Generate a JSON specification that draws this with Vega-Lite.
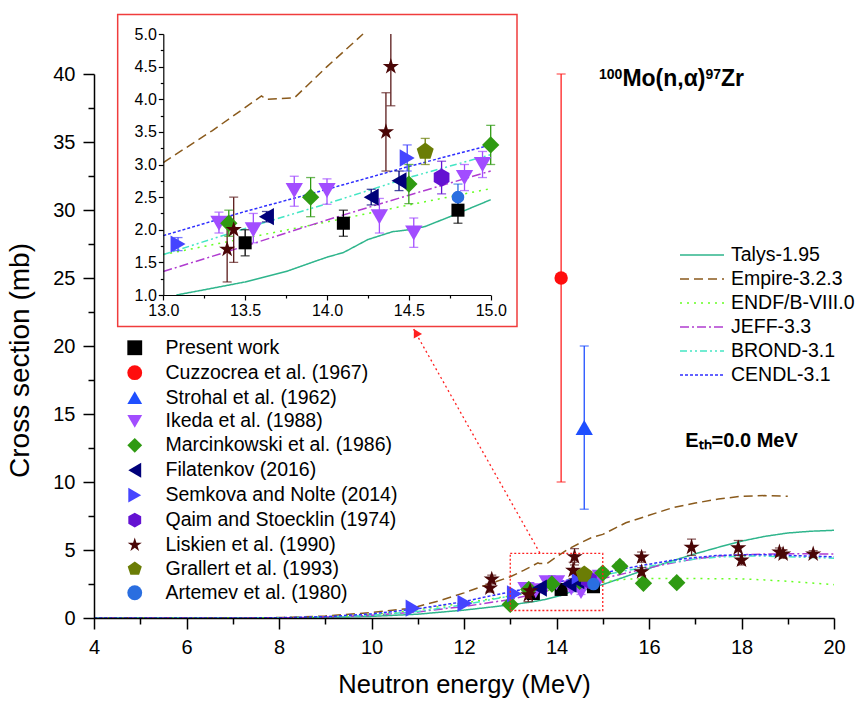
{
"$schema":"https://vega.github.io/schema/vega-lite/v6.json",
"width":740,"height":544,
"autosize":{"type":"none"},
"padding":{"left":94,"top":74,"right":21,"bottom":83},
"background":"white",
"config":{
 "font":"Liberation Sans",
 "view":{"stroke":null},
 "axis":{"grid":false,"domainColor":"#000","tickColor":"#000","labelColor":"#000","titleColor":"#000","labelFont":"Liberation Sans","titleFont":"Liberation Sans","titleFontWeight":"normal","labelFlush":false,"labelOverlap":false},
 "legend":{"labelFont":"Liberation Sans","labelColor":"#000","padding":0,"labelLimit":400}
},
"datasets":{
 "pts":[
  {"s":"Present work","x":13.5,"y":1.8,"lo":1.6,"hi":2.0},
  {"s":"Present work","x":14.1,"y":2.1,"lo":1.9,"hi":2.3},
  {"s":"Present work","x":14.8,"y":2.3,"lo":2.1,"hi":2.5},
  {"s":"Cuzzocrea et al. (1967)","x":14.1,"y":25,"lo":10,"hi":40},
  {"s":"Strohal et al. (1962)","x":14.6,"y":14,"lo":8,"hi":20},
  {"s":"Ikeda et al. (1988)","x":13.34,"y":2.1,"lo":1.95,"hi":2.27},
  {"s":"Ikeda et al. (1988)","x":13.55,"y":2.0,"lo":1.8,"hi":2.25},
  {"s":"Ikeda et al. (1988)","x":13.8,"y":2.6,"lo":2.36,"hi":2.82},
  {"s":"Ikeda et al. (1988)","x":14.0,"y":2.6,"lo":2.39,"hi":2.78},
  {"s":"Ikeda et al. (1988)","x":14.32,"y":2.2,"lo":1.95,"hi":2.48},
  {"s":"Ikeda et al. (1988)","x":14.53,"y":1.95,"lo":1.73,"hi":2.18},
  {"s":"Ikeda et al. (1988)","x":14.84,"y":2.8,"lo":2.6,"hi":3.0},
  {"s":"Ikeda et al. (1988)","x":14.95,"y":3.0,"lo":2.8,"hi":3.2},
  {"s":"Marcinkowski et al. (1986)","x":13.0,"y":1.0,"lo":0.9,"hi":1.1},
  {"s":"Marcinkowski et al. (1986)","x":13.4,"y":2.1,"lo":1.9,"hi":2.3},
  {"s":"Marcinkowski et al. (1986)","x":13.9,"y":2.5,"lo":2.2,"hi":2.8},
  {"s":"Marcinkowski et al. (1986)","x":14.5,"y":2.7,"lo":2.4,"hi":3.0},
  {"s":"Marcinkowski et al. (1986)","x":15.0,"y":3.3,"lo":3.0,"hi":3.6},
  {"s":"Marcinkowski et al. (1986)","x":15.37,"y":3.8,"lo":3.5,"hi":4.1},
  {"s":"Marcinkowski et al. (1986)","x":15.88,"y":2.55,"lo":2.3,"hi":2.8},
  {"s":"Marcinkowski et al. (1986)","x":16.6,"y":2.6,"lo":2.35,"hi":2.85},
  {"s":"Filatenkov (2016)","x":13.63,"y":2.2,"lo":2.12,"hi":2.28},
  {"s":"Filatenkov (2016)","x":14.27,"y":2.5,"lo":2.38,"hi":2.62},
  {"s":"Filatenkov (2016)","x":14.44,"y":2.75,"lo":2.6,"hi":2.9},
  {"s":"Semkova and Nolte (2014)","x":10.9,"y":0.72,"lo":0.66,"hi":0.78},
  {"s":"Semkova and Nolte (2014)","x":12.02,"y":1.08,"lo":1.0,"hi":1.16},
  {"s":"Semkova and Nolte (2014)","x":13.09,"y":1.78,"lo":1.68,"hi":1.88},
  {"s":"Semkova and Nolte (2014)","x":14.49,"y":3.1,"lo":2.9,"hi":3.3},
  {"s":"Qaim and Stoecklin (1974)","x":14.7,"y":2.8,"lo":2.55,"hi":3.05},
  {"s":"Liskien et al. (1990)","x":12.56,"y":2.2,"lo":1.9,"hi":2.5},
  {"s":"Liskien et al. (1990)","x":12.6,"y":2.85,"lo":2.55,"hi":3.15},
  {"s":"Liskien et al. (1990)","x":13.39,"y":1.7,"lo":1.2,"hi":2.2},
  {"s":"Liskien et al. (1990)","x":13.43,"y":2.0,"lo":1.5,"hi":2.5},
  {"s":"Liskien et al. (1990)","x":14.36,"y":3.5,"lo":2.9,"hi":4.1},
  {"s":"Liskien et al. (1990)","x":14.39,"y":4.5,"lo":3.9,"hi":5.1},
  {"s":"Liskien et al. (1990)","x":15.84,"y":3.4,"lo":3.1,"hi":3.7},
  {"s":"Liskien et al. (1990)","x":15.84,"y":4.47,"lo":4.1,"hi":4.85},
  {"s":"Liskien et al. (1990)","x":16.92,"y":5.2,"lo":4.6,"hi":5.8},
  {"s":"Liskien et al. (1990)","x":17.93,"y":5.15,"lo":4.6,"hi":5.7},
  {"s":"Liskien et al. (1990)","x":18.0,"y":4.25,"lo":3.9,"hi":4.6},
  {"s":"Liskien et al. (1990)","x":18.82,"y":4.85,"lo":4.55,"hi":5.15},
  {"s":"Liskien et al. (1990)","x":18.9,"y":4.7,"lo":4.4,"hi":5.0},
  {"s":"Liskien et al. (1990)","x":19.55,"y":4.7,"lo":4.45,"hi":4.95},
  {"s":"Grallert et al. (1993)","x":14.6,"y":3.2,"lo":3.0,"hi":3.4},
  {"s":"Artemev et al. (1980)","x":14.8,"y":2.5,"lo":2.3,"hi":2.7}
 ],
 "curves":[
  {"m":"Talys-1.95","x":4,"y":0},{"m":"Talys-1.95","x":7,"y":0},{"m":"Talys-1.95","x":8,"y":0.01},{"m":"Talys-1.95","x":9,"y":0.04},{"m":"Talys-1.95","x":10,"y":0.12},{"m":"Talys-1.95","x":11,"y":0.28},{"m":"Talys-1.95","x":12,"y":0.58},{"m":"Talys-1.95","x":12.5,"y":0.77},{"m":"Talys-1.95","x":13,"y":0.97},{"m":"Talys-1.95","x":13.08,"y":1.0},{"m":"Talys-1.95","x":13.25,"y":1.08},{"m":"Talys-1.95","x":13.5,"y":1.2},{"m":"Talys-1.95","x":13.75,"y":1.36},{"m":"Talys-1.95","x":14,"y":1.58},{"m":"Talys-1.95","x":14.1,"y":1.65},{"m":"Talys-1.95","x":14.25,"y":1.85},{"m":"Talys-1.95","x":14.4,"y":1.97},{"m":"Talys-1.95","x":14.5,"y":2.0},{"m":"Talys-1.95","x":14.6,"y":2.05},{"m":"Talys-1.95","x":14.75,"y":2.2},{"m":"Talys-1.95","x":15,"y":2.46},{"m":"Talys-1.95","x":15.5,"y":3.05},{"m":"Talys-1.95","x":16,"y":3.65},{"m":"Talys-1.95","x":16.5,"y":4.2},{"m":"Talys-1.95","x":17,"y":4.72},{"m":"Talys-1.95","x":17.5,"y":5.2},{"m":"Talys-1.95","x":18,"y":5.65},{"m":"Talys-1.95","x":18.5,"y":6.0},{"m":"Talys-1.95","x":19,"y":6.25},{"m":"Talys-1.95","x":19.5,"y":6.38},{"m":"Talys-1.95","x":20,"y":6.45},
  {"m":"Empire-3.2.3","x":4,"y":0},{"m":"Empire-3.2.3","x":7,"y":0},{"m":"Empire-3.2.3","x":8,"y":0.03},{"m":"Empire-3.2.3","x":9,"y":0.15},{"m":"Empire-3.2.3","x":10,"y":0.4},{"m":"Empire-3.2.3","x":10.75,"y":0.68},{"m":"Empire-3.2.3","x":11,"y":0.85},{"m":"Empire-3.2.3","x":11.5,"y":1.3},{"m":"Empire-3.2.3","x":12,"y":1.85},{"m":"Empire-3.2.3","x":12.5,"y":2.45},{"m":"Empire-3.2.3","x":13,"y":3.03},{"m":"Empire-3.2.3","x":13.3,"y":3.52},{"m":"Empire-3.2.3","x":13.6,"y":4.05},{"m":"Empire-3.2.3","x":13.63,"y":4.0},{"m":"Empire-3.2.3","x":13.8,"y":4.02},{"m":"Empire-3.2.3","x":14,"y":4.5},{"m":"Empire-3.2.3","x":14.22,"y":5.0},{"m":"Empire-3.2.3","x":14.5,"y":5.5},{"m":"Empire-3.2.3","x":14.75,"y":5.9},{"m":"Empire-3.2.3","x":15,"y":6.15},{"m":"Empire-3.2.3","x":15.5,"y":7.0},{"m":"Empire-3.2.3","x":16,"y":7.55},{"m":"Empire-3.2.3","x":16.5,"y":8.1},{"m":"Empire-3.2.3","x":17,"y":8.45},{"m":"Empire-3.2.3","x":17.5,"y":8.75},{"m":"Empire-3.2.3","x":18,"y":8.95},{"m":"Empire-3.2.3","x":18.5,"y":9.0},{"m":"Empire-3.2.3","x":19,"y":8.95},
  {"m":"ENDF/B-VIII.0","x":4,"y":0},{"m":"ENDF/B-VIII.0","x":7,"y":0},{"m":"ENDF/B-VIII.0","x":8,"y":0.02},{"m":"ENDF/B-VIII.0","x":9,"y":0.08},{"m":"ENDF/B-VIII.0","x":10,"y":0.25},{"m":"ENDF/B-VIII.0","x":11,"y":0.6},{"m":"ENDF/B-VIII.0","x":12,"y":1.1},{"m":"ENDF/B-VIII.0","x":12.5,"y":1.37},{"m":"ENDF/B-VIII.0","x":13,"y":1.62},{"m":"ENDF/B-VIII.0","x":13.5,"y":1.87},{"m":"ENDF/B-VIII.0","x":14,"y":2.12},{"m":"ENDF/B-VIII.0","x":14.5,"y":2.38},{"m":"ENDF/B-VIII.0","x":15,"y":2.63},{"m":"ENDF/B-VIII.0","x":15.5,"y":2.85},{"m":"ENDF/B-VIII.0","x":16,"y":2.9},{"m":"ENDF/B-VIII.0","x":17,"y":2.9},{"m":"ENDF/B-VIII.0","x":18,"y":2.88},{"m":"ENDF/B-VIII.0","x":18.5,"y":2.8},{"m":"ENDF/B-VIII.0","x":19,"y":2.7},{"m":"ENDF/B-VIII.0","x":19.5,"y":2.58},{"m":"ENDF/B-VIII.0","x":20,"y":2.45},
  {"m":"JEFF-3.3","x":4,"y":0},{"m":"JEFF-3.3","x":7,"y":0},{"m":"JEFF-3.3","x":8,"y":0.01},{"m":"JEFF-3.3","x":9,"y":0.06},{"m":"JEFF-3.3","x":10,"y":0.2},{"m":"JEFF-3.3","x":11,"y":0.45},{"m":"JEFF-3.3","x":12,"y":0.85},{"m":"JEFF-3.3","x":12.5,"y":1.1},{"m":"JEFF-3.3","x":13,"y":1.36},{"m":"JEFF-3.3","x":13.5,"y":1.75},{"m":"JEFF-3.3","x":14,"y":2.15},{"m":"JEFF-3.3","x":14.5,"y":2.53},{"m":"JEFF-3.3","x":15,"y":2.9},{"m":"JEFF-3.3","x":15.5,"y":3.3},{"m":"JEFF-3.3","x":16,"y":3.7},{"m":"JEFF-3.3","x":16.5,"y":4.05},{"m":"JEFF-3.3","x":17,"y":4.35},{"m":"JEFF-3.3","x":17.5,"y":4.55},{"m":"JEFF-3.3","x":18,"y":4.65},{"m":"JEFF-3.3","x":18.5,"y":4.7},{"m":"JEFF-3.3","x":19,"y":4.72},{"m":"JEFF-3.3","x":19.5,"y":4.72},{"m":"JEFF-3.3","x":20,"y":4.7},
  {"m":"BROND-3.1","x":4,"y":0},{"m":"BROND-3.1","x":7,"y":0},{"m":"BROND-3.1","x":8,"y":0.01},{"m":"BROND-3.1","x":9,"y":0.06},{"m":"BROND-3.1","x":10,"y":0.2},{"m":"BROND-3.1","x":11,"y":0.48},{"m":"BROND-3.1","x":12,"y":0.98},{"m":"BROND-3.1","x":12.5,"y":1.3},{"m":"BROND-3.1","x":13,"y":1.62},{"m":"BROND-3.1","x":13.5,"y":2.02},{"m":"BROND-3.1","x":14,"y":2.4},{"m":"BROND-3.1","x":14.5,"y":2.8},{"m":"BROND-3.1","x":15,"y":3.15},{"m":"BROND-3.1","x":15.5,"y":3.48},{"m":"BROND-3.1","x":16,"y":3.8},{"m":"BROND-3.1","x":16.5,"y":4.1},{"m":"BROND-3.1","x":17,"y":4.33},{"m":"BROND-3.1","x":17.5,"y":4.48},{"m":"BROND-3.1","x":18,"y":4.55},{"m":"BROND-3.1","x":18.5,"y":4.55},{"m":"BROND-3.1","x":19,"y":4.5},{"m":"BROND-3.1","x":19.5,"y":4.45},{"m":"BROND-3.1","x":20,"y":4.4},
  {"m":"CENDL-3.1","x":4,"y":0},{"m":"CENDL-3.1","x":7,"y":0},{"m":"CENDL-3.1","x":8,"y":0.02},{"m":"CENDL-3.1","x":9,"y":0.1},{"m":"CENDL-3.1","x":10,"y":0.3},{"m":"CENDL-3.1","x":11,"y":0.68},{"m":"CENDL-3.1","x":12,"y":1.2},{"m":"CENDL-3.1","x":12.5,"y":1.58},{"m":"CENDL-3.1","x":13,"y":1.91},{"m":"CENDL-3.1","x":13.5,"y":2.28},{"m":"CENDL-3.1","x":14,"y":2.62},{"m":"CENDL-3.1","x":14.5,"y":2.97},{"m":"CENDL-3.1","x":15,"y":3.3},{"m":"CENDL-3.1","x":15.5,"y":3.65},{"m":"CENDL-3.1","x":16,"y":3.95},{"m":"CENDL-3.1","x":16.5,"y":4.25},{"m":"CENDL-3.1","x":17,"y":4.45},{"m":"CENDL-3.1","x":17.5,"y":4.6},{"m":"CENDL-3.1","x":18,"y":4.65},{"m":"CENDL-3.1","x":18.5,"y":4.65},{"m":"CENDL-3.1","x":19,"y":4.6},{"m":"CENDL-3.1","x":19.5,"y":4.55},{"m":"CENDL-3.1","x":20,"y":4.5}
 ],
 "frame":[{"x":4.512,"x2":13.146,"y":21.43,"y2":44.38}],
 "zoombox":[{"x":13.0,"x2":15.0,"y":0.55,"y2":4.75}],
 "arrow":[{"x":13.64,"y":4.78,"x2":10.9,"y2":21.3}],
 "arrowhead":[{"x":10.96,"y":20.98}],
 "titlebig":[{"label":"Mo(n,α)","x":15.425,"y":39.15},{"label":"Zr","x":17.557,"y":39.15}],
 "titlesup":[{"label":"100","x":14.919,"y":39.63},{"label":"97","x":17.219,"y":39.63}],
 "eth":[{"label":"Eₜₕ=0.0 MeV","x":18.0,"y":12.6}],
 "anchor":[{"x":14,"y":3}]
},
"layer":[
 {
  "encoding":{
   "x":{"field":"x","type":"quantitative","scale":{"domain":[4,20],"nice":false,"zero":false},"axis":null},
   "y":{"field":"y","type":"quantitative","scale":{"domain":[0,40],"nice":false,"zero":false},"axis":null}
  },
  "layer":[
   {"data":{"name":"frame"},"mark":{"type":"rect","fill":"white","stroke":"#f03c3c","strokeWidth":1.5},
    "encoding":{"x2":{"field":"x2"},"y2":{"field":"y2"}}},
   {"data":{"name":"curves"},"mark":{"type":"line","strokeWidth":1.5},
    "encoding":{
     "stroke":{"field":"m","type":"nominal","scale":{"domain":["Talys-1.95","Empire-3.2.3","ENDF/B-VIII.0","JEFF-3.3","BROND-3.1","CENDL-3.1"],"range":["#2fb58c","#8a5a1c","#66ff22","#b03cd0","#44e6c4","#2f2fff"]},
       "legend":{"orient":"none","legendX":596,"legendY":169,"title":null,"symbolType":"M-2,0L2,0","symbolSize":484,"symbolStrokeWidth":1.5,"labelFontSize":19.5,"labelOffset":17,"rowPadding":2,"padding":0}},
     "strokeDash":{"field":"m","type":"nominal","scale":{"domain":["Talys-1.95","Empire-3.2.3","ENDF/B-VIII.0","JEFF-3.3","BROND-3.1","CENDL-3.1"],"range":[[1,0],[9,5],[2,5],[9,3,2,3],[7,3,2,3,2,3],[3,2]]},
       "legend":{"orient":"none","legendX":596,"legendY":169,"title":null,"symbolType":"M-2,0L2,0","symbolSize":484,"symbolStrokeWidth":1.5,"labelFontSize":19.5,"labelOffset":17,"rowPadding":2,"padding":0}}
    }},
   {"data":{"name":"pts"},"mark":{"type":"rule","strokeWidth":1.3},
    "encoding":{
     "y":{"field":"lo","type":"quantitative","scale":{"domain":[0,40],"nice":false,"zero":false},"axis":null},
     "y2":{"field":"hi"},
     "color":{"field":"s","type":"nominal","scale":{"domain":["Artemev et al. (1980)","Grallert et al. (1993)","Liskien et al. (1990)","Qaim and Stoecklin (1974)","Semkova and Nolte (2014)","Filatenkov (2016)","Marcinkowski et al. (1986)","Ikeda et al. (1988)","Strohal et al. (1962)","Cuzzocrea et al. (1967)","Present work"],"range":["#2a6ee0","#6b7d05","#5a1a1a","#6412d2","#4545ff","#00007a","#2f9a12","#a24dff","#2050ff","#ff2020","#000000"]},"legend":null}
    }},
   {"data":{"name":"pts"},"mark":{"type":"tick","orient":"horizontal","size":9,"thickness":1.3},
    "encoding":{
     "y":{"field":"hi","type":"quantitative","scale":{"domain":[0,40],"nice":false,"zero":false},"axis":null},
     "color":{"field":"s","type":"nominal","legend":null}
    }},
   {"data":{"name":"pts"},"mark":{"type":"tick","orient":"horizontal","size":9,"thickness":1.3},
    "encoding":{
     "y":{"field":"lo","type":"quantitative","scale":{"domain":[0,40],"nice":false,"zero":false},"axis":null},
     "color":{"field":"s","type":"nominal","legend":null}
    }},
   {"data":{"name":"pts"},"mark":{"type":"point","filled":true,"opacity":1},
    "encoding":{
     "fill":{"field":"s","type":"nominal","scale":{"domain":["Present work","Cuzzocrea et al. (1967)","Strohal et al. (1962)","Ikeda et al. (1988)","Marcinkowski et al. (1986)","Filatenkov (2016)","Semkova and Nolte (2014)","Qaim and Stoecklin (1974)","Liskien et al. (1990)","Grallert et al. (1993)","Artemev et al. (1980)"],"range":["#000000","#ff0d0d","#1f4fff","#a24dff","#2f9a12","#00007a","#4545ff","#6412d2","#4a0606","#6b7d05","#2a6ee0"]},
       "legend":{"orient":"none","legendX":31,"legendY":264,"title":null,"symbolSize":220,"labelFontSize":19.5,"labelOffset":21,"rowPadding":2.9,"padding":0,"labelLimit":400}},
     "shape":{"field":"s","type":"nominal","scale":{"domain":["Present work","Cuzzocrea et al. (1967)","Strohal et al. (1962)","Ikeda et al. (1988)","Marcinkowski et al. (1986)","Filatenkov (2016)","Semkova and Nolte (2014)","Qaim and Stoecklin (1974)","Liskien et al. (1990)","Grallert et al. (1993)","Artemev et al. (1980)"],"range":["square","circle","triangle-up","triangle-down","diamond","triangle-left","triangle-right","M0,-1L0.866,-0.5L0.866,0.5L0,1L-0.866,0.5L-0.866,-0.5Z","M0,-1L0.2245,-0.309L0.951,-0.309L0.3633,0.118L0.5878,0.809L0,0.382L-0.5878,0.809L-0.3633,0.118L-0.951,-0.309L-0.2245,-0.309Z","M0,-1L0.951,-0.309L0.5878,0.809L-0.5878,0.809L-0.951,-0.309Z","circle"]},
       "legend":{"orient":"none","legendX":31,"legendY":264,"title":null,"symbolSize":220,"labelFontSize":19.5,"labelOffset":21,"rowPadding":2.9,"padding":0,"labelLimit":400}},
     "size":{"field":"s","type":"nominal","scale":{"type":"ordinal","domain":["Artemev et al. (1980)","Grallert et al. (1993)","Liskien et al. (1990)","Qaim and Stoecklin (1974)","Semkova and Nolte (2014)","Filatenkov (2016)","Marcinkowski et al. (1986)","Ikeda et al. (1988)","Strohal et al. (1962)","Cuzzocrea et al. (1967)","Present work","_"],"range":[160,320,290,330,300,300,300,300,300,180,170,100]},"legend":null}
    }},
   {"data":{"name":"zoombox"},"mark":{"type":"rect","fillOpacity":0,"stroke":"#ff2020","strokeWidth":1.3,"strokeDash":[2,2]},
    "encoding":{"x2":{"field":"x2"},"y2":{"field":"y2"}}},
   {"data":{"name":"arrow"},"mark":{"type":"rule","stroke":"#ff2020","strokeWidth":1.3,"strokeDash":[2,3]},
    "encoding":{"x2":{"field":"x2"},"y2":{"field":"y2"}}},
   {"data":{"name":"arrowhead"},"mark":{"type":"point","shape":"triangle-up","filled":true,"color":"#ff2020","size":90,"angle":330.6,"opacity":1}},
   {"data":{"name":"titlebig"},"mark":{"type":"text","font":"Liberation Sans","fontWeight":"bold","fontSize":23,"align":"left","baseline":"alphabetic","color":"#000"},
    "encoding":{"text":{"field":"label"}}},
   {"data":{"name":"titlesup"},"mark":{"type":"text","font":"Liberation Sans","fontWeight":"bold","fontSize":14,"align":"left","baseline":"alphabetic","color":"#000"},
    "encoding":{"text":{"field":"label"}}},
   {"data":{"name":"eth"},"mark":{"type":"text","font":"Liberation Sans","fontWeight":"bold","fontSize":20,"align":"center","baseline":"alphabetic","color":"#000"},
    "encoding":{"text":{"field":"label"}}}
  ]
 },
 {
  "data":{"name":"anchor"},
  "mark":{"type":"point","opacity":0},
  "encoding":{
   "x":{"field":"x","type":"quantitative","scale":{"domain":[4,20],"nice":false,"zero":false},
        "axis":{"orient":"bottom","title":"Neutron energy (MeV)","values":[4,6,8,10,12,14,16,18,20],"tickSize":11,"tickWidth":1.5,"domainWidth":1.5,"labelFontSize":20,"labelPadding":8,"titleFontSize":25.5,"titlePadding":15,"zindex":1}},
   "y":{"field":"y","type":"quantitative","scale":{"domain":[0,40],"nice":false,"zero":false},
        "axis":{"orient":"left","title":"Cross section (mb)","values":[0,5,10,15,20,25,30,35,40],"tickSize":11,"tickWidth":1.5,"domainWidth":1.5,"labelFontSize":20,"labelPadding":8,"titleFontSize":28,"titlePadding":18,"titleY":286,"zindex":1}}
  }
 },
 {
  "data":{"name":"anchor"},
  "mark":{"type":"point","opacity":0},
  "encoding":{
   "x":{"field":"x","type":"quantitative","scale":{"domain":[4,20],"nice":false,"zero":false},
        "axis":{"orient":"bottom","title":null,"values":[5,7,9,11,13,15,17,19],"labels":false,"domain":false,"tickSize":6,"tickWidth":1.5,"zindex":1}},
   "y":{"field":"y","type":"quantitative","scale":{"domain":[0,40],"nice":false,"zero":false},
        "axis":{"orient":"left","title":null,"values":[2.5,7.5,12.5,17.5,22.5,27.5,32.5,37.5],"labels":false,"domain":false,"tickSize":6,"tickWidth":1.5,"zindex":1}}
  }
 },
 {
  "encoding":{
   "x":{"field":"x","type":"quantitative","scale":{"domain":[13,15],"range":[69.3,396.7],"nice":false,"zero":false},"axis":null},
   "y":{"field":"y","type":"quantitative","scale":{"domain":[1,5],"range":[221,-40],"nice":false,"zero":false,"clamp":true},"axis":null}
  },
  "layer":[
   {"data":{"name":"curves"},"transform":[{"filter":"datum.x >= 13 && datum.x <= 15 && datum.y >= 0.999 && datum.y <= 5.001"}],
    "mark":{"type":"line","strokeWidth":1.5},
    "encoding":{"stroke":{"field":"m","type":"nominal","legend":null},"strokeDash":{"field":"m","type":"nominal","legend":null}}},
   {"data":{"name":"pts"},"transform":[{"filter":"datum.x >= 12.99 && datum.x <= 15.01 && datum.y > 1.01 && datum.y <= 5"}],
    "mark":{"type":"rule","strokeWidth":1.3},
    "encoding":{"y":{"field":"lo","type":"quantitative","scale":{"domain":[1,5],"range":[221,-40],"nice":false,"zero":false,"clamp":true},"axis":null},"y2":{"field":"hi"},"color":{"field":"s","type":"nominal","legend":null}}},
   {"data":{"name":"pts"},"transform":[{"filter":"datum.x >= 12.99 && datum.x <= 15.01 && datum.y > 1.01 && datum.y <= 5 && datum.hi <= 5"}],
    "mark":{"type":"tick","orient":"horizontal","size":9,"thickness":1.3},
    "encoding":{"y":{"field":"hi","type":"quantitative","scale":{"domain":[1,5],"range":[221,-40],"nice":false,"zero":false,"clamp":true},"axis":null},"color":{"field":"s","type":"nominal","legend":null}}},
   {"data":{"name":"pts"},"transform":[{"filter":"datum.x >= 12.99 && datum.x <= 15.01 && datum.y > 1.01 && datum.y <= 5 && datum.lo >= 1"}],
    "mark":{"type":"tick","orient":"horizontal","size":9,"thickness":1.3},
    "encoding":{"y":{"field":"lo","type":"quantitative","scale":{"domain":[1,5],"range":[221,-40],"nice":false,"zero":false,"clamp":true},"axis":null},"color":{"field":"s","type":"nominal","legend":null}}},
   {"data":{"name":"pts"},"transform":[{"filter":"datum.x >= 12.99 && datum.x <= 15.01 && datum.y > 1.01 && datum.y <= 5"}],
    "mark":{"type":"point","filled":true,"opacity":1},
    "encoding":{"fill":{"field":"s","type":"nominal","legend":null},"shape":{"field":"s","type":"nominal","legend":null},"size":{"field":"s","type":"nominal","scale":{"type":"ordinal"},"legend":null}}}
  ]
 },
 {
  "data":{"name":"anchor"},
  "mark":{"type":"point","opacity":0},
  "encoding":{
   "x":{"field":"x","type":"quantitative","scale":{"domain":[13,15],"range":[69.3,396.7],"nice":false,"zero":false},
        "axis":{"orient":"bottom","offset":-323,"title":null,"values":[13,13.5,14,14.5,15],"format":".1f","tickSize":5,"tickWidth":1.2,"domainWidth":1.2,"labelFontSize":16,"labelPadding":2,"zindex":1}},
   "y":{"field":"y","type":"quantitative","scale":{"domain":[1,5],"range":[221,-40],"nice":false,"zero":false},
        "axis":{"orient":"left","offset":-69.3,"title":null,"values":[1,1.5,2,2.5,3,3.5,4,4.5,5],"format":".1f","tickSize":5,"tickWidth":1.2,"domainWidth":1.2,"labelFontSize":16,"labelPadding":2,"zindex":1}}
  }
 },
 {
  "data":{"name":"anchor"},
  "mark":{"type":"point","opacity":0},
  "encoding":{
   "x":{"field":"x","type":"quantitative","scale":{"domain":[13,15],"range":[69.3,396.7],"nice":false,"zero":false},
        "axis":{"orient":"bottom","offset":-323,"title":null,"values":[13.25,13.75,14.25,14.75],"labels":false,"domain":false,"tickSize":3,"tickWidth":1.2,"zindex":1}},
   "y":{"field":"y","type":"quantitative","scale":{"domain":[1,5],"range":[221,-40],"nice":false,"zero":false},
        "axis":{"orient":"left","offset":-69.3,"title":null,"values":[1.25,1.75,2.25,2.75,3.25,3.75,4.25,4.75],"labels":false,"domain":false,"tickSize":3,"tickWidth":1.2,"zindex":1}}
  }
 }
],
"resolve":{"scale":{"x":"independent","y":"independent"},"axis":{"x":"independent","y":"independent"}}
}
